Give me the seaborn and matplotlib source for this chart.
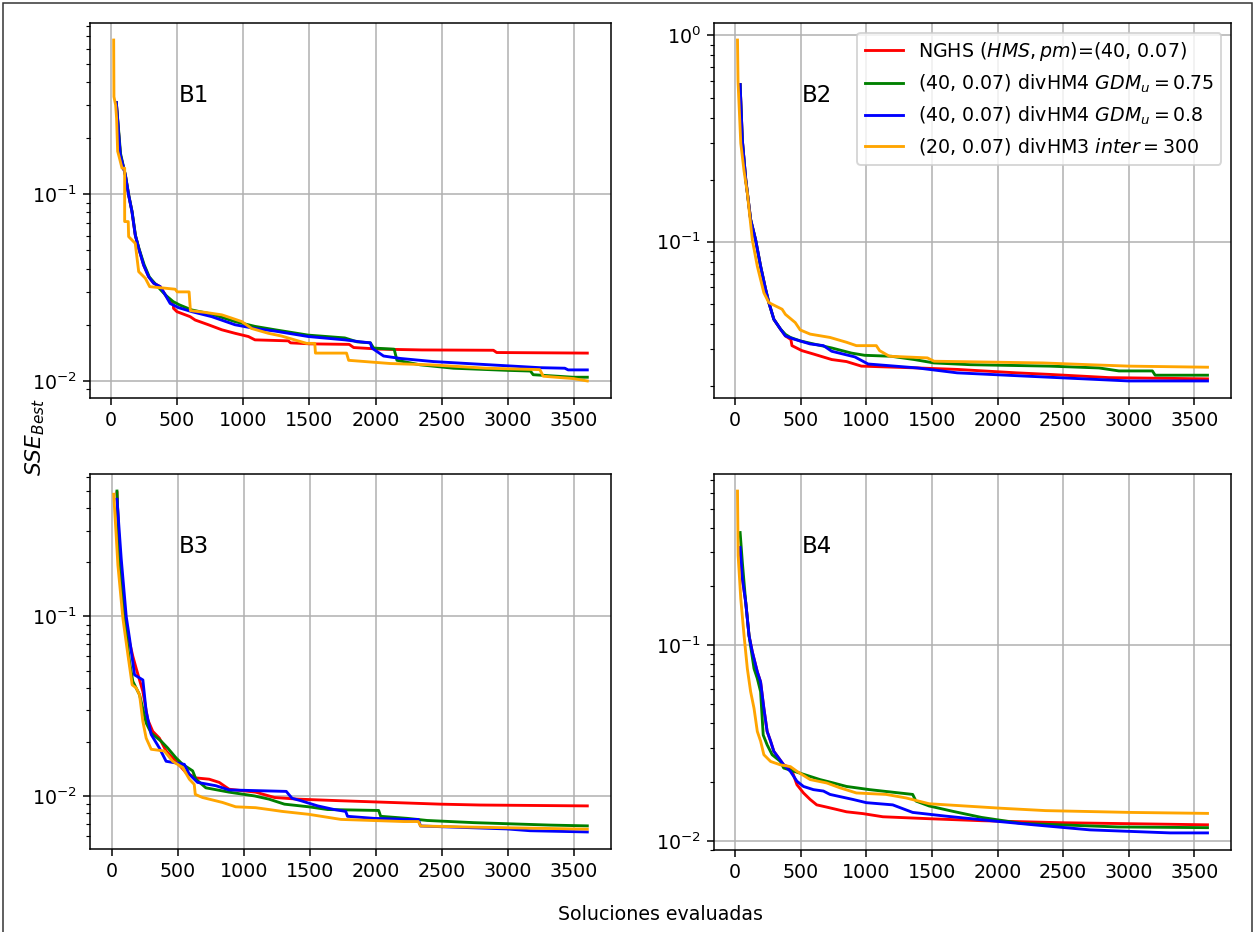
import numpy as np
import pandas as pd
import matplotlib
matplotlib.use("Agg")
import matplotlib.pyplot as plt
from matplotlib.patches import Rectangle
import seaborn as sns

# ---------------- data (best SSE vs evaluated solutions) ----------------
series_labels = [
    "NGHS ($HMS, pm$)=(40, 0.07)",
    "(40, 0.07) divHM4 $GDM_u = 0.75$",
    "(40, 0.07) divHM4 $GDM_u = 0.8$",
    "(20, 0.07) divHM3 $inter = 300$",
]
series_colors = ["red", "green", "blue", "orange"]
panel_names = ["B1", "B2", "B3", "B4"]

# B1
b1_red_x = [40, 70, 108, 133, 158, 183, 209, 246, 284, 322, 372, 410, 447, 472, 472, 498, 598, 636, 736, 837, 937, 1038, 1088, 1340, 1357, 1508, 1800, 1834, 2035, 2350, 2890, 2915, 3600]
b1_red_y = [0.31, 0.163, 0.127, 0.099, 0.081, 0.0605, 0.0514, 0.0418, 0.0362, 0.0334, 0.032, 0.0289, 0.0265, 0.0255, 0.0245, 0.0235, 0.0221, 0.0212, 0.0200, 0.0188, 0.0180, 0.0173, 0.0166, 0.0164, 0.0160, 0.0158, 0.0157, 0.0151, 0.0148, 0.01466, 0.0146, 0.0142, 0.0141]
b1_green_x = [40, 72, 110, 135, 160, 185, 212, 250, 290, 330, 380, 420, 470, 520, 611, 761, 937, 1088, 1239, 1490, 1767, 1860, 1960, 1985, 2140, 2161, 2337, 2588, 2990, 3170, 3191, 3493, 3600]
b1_green_y = [0.31, 0.165, 0.125, 0.098, 0.080, 0.060, 0.051, 0.042, 0.036, 0.0334, 0.0305, 0.0285, 0.0266, 0.0255, 0.0240, 0.0228, 0.0208, 0.0196, 0.0188, 0.0176, 0.0170, 0.0162, 0.0160, 0.0150, 0.0148, 0.0129, 0.0122, 0.0117, 0.0114, 0.0113, 0.0108, 0.01047, 0.01047]
b1_blue_x = [40, 70, 108, 133, 158, 183, 209, 246, 284, 322, 372, 410, 447, 510, 611, 761, 937, 1088, 1239, 1490, 1767, 1884, 1960, 1972, 2060, 2186, 2437, 2865, 3241, 3430, 3455, 3600]
b1_blue_y = [0.31, 0.163, 0.127, 0.099, 0.081, 0.0605, 0.0514, 0.0418, 0.0362, 0.0334, 0.032, 0.0289, 0.026, 0.0247, 0.0235, 0.0221, 0.0200, 0.0191, 0.0185, 0.0173, 0.0166, 0.0162, 0.0160, 0.0150, 0.0136, 0.0132, 0.0127, 0.0122, 0.01178, 0.0117, 0.01146, 0.01146]
b1_orange_x = [20, 22, 35, 42, 50, 60, 83, 103, 103, 130, 133, 183, 209, 259, 292, 485, 500, 590, 600, 711, 837, 912, 988, 1063, 1189, 1289, 1478, 1540, 1545, 1780, 1796, 2110, 2412, 2840, 3241, 3267, 3493, 3600]
b1_orange_y = [0.67, 0.333, 0.30, 0.255, 0.17, 0.16, 0.138, 0.138, 0.0714, 0.0714, 0.0593, 0.0546, 0.0385, 0.0355, 0.032, 0.031, 0.030, 0.030, 0.0238, 0.0233, 0.0226, 0.0217, 0.0208, 0.0191, 0.0180, 0.0174, 0.0159, 0.0159, 0.0141, 0.0141, 0.0129, 0.0124, 0.0122, 0.0117, 0.0115, 0.0106, 0.0103, 0.0100]

# B2
b2_red_x = [38, 55, 81, 118, 156, 194, 232, 257, 295, 345, 383, 425, 433, 509, 597, 736, 849, 962, 1390, 1692, 2145, 2396, 2849, 3600]
b2_red_y = [0.578, 0.31, 0.20, 0.128, 0.102, 0.076, 0.0588, 0.0506, 0.042, 0.0377, 0.0349, 0.0335, 0.0313, 0.0296, 0.0285, 0.0268, 0.0262, 0.0249, 0.0244, 0.0240, 0.0231, 0.0227, 0.0219, 0.0216]
b2_green_x = [38, 55, 81, 118, 156, 194, 232, 257, 295, 345, 383, 421, 496, 597, 736, 887, 987, 1189, 1365, 1516, 1793, 2396, 2773, 2925, 3180, 3201, 3600]
b2_green_y = [0.578, 0.31, 0.20, 0.128, 0.102, 0.076, 0.0588, 0.0506, 0.042, 0.0377, 0.0355, 0.0343, 0.0330, 0.0319, 0.0305, 0.0288, 0.0281, 0.0278, 0.0268, 0.0258, 0.0253, 0.0249, 0.0244, 0.0236, 0.0236, 0.0225, 0.0225]
b2_blue_x = [38, 55, 81, 118, 156, 194, 232, 257, 295, 345, 383, 446, 572, 673, 736, 912, 1013, 1390, 1692, 2195, 2999, 3600]
b2_blue_y = [0.578, 0.31, 0.20, 0.128, 0.102, 0.076, 0.0588, 0.0506, 0.042, 0.0377, 0.0349, 0.0337, 0.0319, 0.0313, 0.0294, 0.0276, 0.0255, 0.0244, 0.0231, 0.0223, 0.0211, 0.0211]
b2_orange_x = [18, 22, 43, 68, 93, 131, 169, 219, 257, 358, 383, 458, 496, 572, 723, 849, 924, 1076, 1101, 1176, 1465, 1516, 2346, 2698, 3000, 3600]
b2_orange_y = [0.95, 0.60, 0.30, 0.22, 0.172, 0.102, 0.076, 0.0565, 0.0506, 0.047, 0.0444, 0.0405, 0.0373, 0.0356, 0.0343, 0.0325, 0.0313, 0.0313, 0.0296, 0.0278, 0.0273, 0.0263, 0.0258, 0.0253, 0.0249, 0.0246]

# B3
b3_red_x = [38, 58, 95, 133, 158, 183, 234, 271, 309, 359, 410, 485, 560, 636, 736, 812, 887, 1088, 1231, 1407, 1734, 2110, 2487, 2789, 3600]
b3_red_y = [0.49, 0.21, 0.097, 0.072, 0.060, 0.0515, 0.0382, 0.0266, 0.0229, 0.021, 0.0178, 0.0156, 0.0135, 0.0126, 0.0124, 0.0119, 0.0109, 0.0105, 0.0098, 0.0096, 0.0094, 0.0092, 0.0090, 0.0089, 0.0088]
b3_green_x = [38, 58, 95, 133, 158, 209, 259, 297, 372, 422, 485, 535, 611, 636, 711, 887, 1080, 1189, 1306, 1490, 1633, 2020, 2035, 2236, 2387, 2739, 3317, 3600]
b3_green_y = [0.50, 0.21, 0.097, 0.056, 0.0435, 0.0366, 0.0255, 0.0224, 0.0202, 0.0185, 0.0163, 0.0150, 0.0138, 0.0124, 0.0111, 0.0105, 0.0100, 0.0096, 0.0090, 0.0087, 0.0084, 0.0083, 0.0077, 0.0075, 0.0073, 0.0071, 0.00688, 0.00681]
b3_blue_x = [38, 70, 108, 133, 171, 234, 259, 297, 359, 410, 548, 586, 648, 787, 887, 1320, 1339, 1364, 1432, 1558, 1683, 1770, 1784, 1985, 2236, 2320, 2337, 2990, 3166, 3600]
b3_blue_y = [0.45, 0.21, 0.10, 0.0755, 0.0473, 0.0443, 0.0296, 0.022, 0.0185, 0.0156, 0.0150, 0.0132, 0.0119, 0.0114, 0.0108, 0.0106, 0.0102, 0.0097, 0.0094, 0.0088, 0.0084, 0.0082, 0.0077, 0.0075, 0.0074, 0.0074, 0.0068, 0.00655, 0.0064, 0.0063]
b3_orange_x = [13, 30, 45, 83, 121, 153, 183, 209, 234, 259, 297, 397, 460, 535, 586, 623, 631, 686, 837, 937, 1088, 1189, 1289, 1490, 1734, 2211, 2320, 2337, 2739, 3241, 3600]
b3_orange_y = [0.48, 0.30, 0.193, 0.0974, 0.061, 0.0416, 0.040, 0.0366, 0.026, 0.021, 0.0182, 0.0178, 0.0156, 0.0144, 0.0124, 0.0116, 0.0102, 0.0098, 0.0092, 0.0087, 0.0086, 0.0084, 0.0082, 0.0079, 0.0074, 0.0072, 0.0072, 0.0068, 0.0067, 0.0066, 0.00653]

# B4
b4_red_x = [38, 55, 81, 106, 131, 169, 194, 219, 244, 270, 295, 333, 370, 426, 471, 521, 572, 622, 698, 773, 849, 975, 1126, 1479, 1877, 2490, 3600]
b4_red_y = [0.316, 0.22, 0.165, 0.112, 0.0925, 0.0732, 0.065, 0.0476, 0.0363, 0.0324, 0.0287, 0.0265, 0.0245, 0.0236, 0.0194, 0.0176, 0.0163, 0.0153, 0.0149, 0.0145, 0.0141, 0.0138, 0.0133, 0.0130, 0.0127, 0.0124, 0.0121]
b4_green_x = [38, 55, 81, 106, 144, 169, 194, 214, 244, 282, 345, 370, 496, 647, 748, 849, 1025, 1353, 1378, 1479, 1655, 1877, 2183, 2918, 3600]
b4_green_y = [0.377, 0.265, 0.165, 0.112, 0.076, 0.0677, 0.058, 0.0348, 0.031, 0.0276, 0.0255, 0.0236, 0.0222, 0.0206, 0.0198, 0.0190, 0.0183, 0.0173, 0.0160, 0.0151, 0.0142, 0.0132, 0.0123, 0.0118, 0.0117]
b4_blue_x = [38, 55, 81, 106, 131, 169, 194, 219, 244, 270, 295, 333, 370, 421, 471, 521, 597, 673, 723, 899, 1000, 1201, 1353, 1605, 2000, 2275, 2704, 3316, 3600]
b4_blue_y = [0.316, 0.22, 0.165, 0.112, 0.0925, 0.0732, 0.065, 0.0476, 0.0363, 0.0324, 0.0287, 0.0265, 0.0245, 0.0227, 0.0202, 0.0190, 0.0183, 0.0180, 0.0173, 0.0163, 0.0157, 0.0153, 0.0140, 0.0134, 0.0126, 0.0121, 0.0114, 0.0110, 0.0110]
b4_orange_x = [18, 23, 43, 68, 93, 118, 144, 169, 194, 219, 270, 345, 421, 471, 572, 698, 799, 924, 1151, 1302, 1479, 2030, 2367, 3010, 3600]
b4_orange_y = [0.614, 0.287, 0.173, 0.112, 0.076, 0.058, 0.0476, 0.0363, 0.0324, 0.0276, 0.0255, 0.0245, 0.0240, 0.0227, 0.0206, 0.0198, 0.0187, 0.0176, 0.0173, 0.0166, 0.0155, 0.0147, 0.0143, 0.0140, 0.01384]

panels = {
    "B1": [(b1_red_x, b1_red_y), (b1_green_x, b1_green_y), (b1_blue_x, b1_blue_y), (b1_orange_x, b1_orange_y)],
    "B2": [(b2_red_x, b2_red_y), (b2_green_x, b2_green_y), (b2_blue_x, b2_blue_y), (b2_orange_x, b2_orange_y)],
    "B3": [(b3_red_x, b3_red_y), (b3_green_x, b3_green_y), (b3_blue_x, b3_blue_y), (b3_orange_x, b3_orange_y)],
    "B4": [(b4_red_x, b4_red_y), (b4_green_x, b4_green_y), (b4_blue_x, b4_blue_y), (b4_orange_x, b4_orange_y)],
}

# ---------------- figure ----------------
W, H, DPI = 1255, 932, 137
fig = plt.figure(figsize=(W / DPI, H / DPI), dpi=DPI)

# axes boxes in pixels: (left, top, right, bottom)
boxes = {
    "B1": (90, 23, 611, 398),
    "B2": (714, 23, 1231, 398),
    "B3": (90, 474, 611, 849),
    "B4": (714, 474, 1231, 850),
}

for name in panel_names:
    l, t, r, b = boxes[name]
    ax = fig.add_axes([l / W, 1 - b / H, (r - l) / W, (b - t) / H])
    for (xs, ys), col, lab in zip(panels[name], series_colors, series_labels):
        df = pd.DataFrame({"x": xs, "y": ys})
        sns.lineplot(data=df, x="x", y="y", sort=False, estimator=None,
                     color=col, linewidth=1.5, label=lab, legend=False, ax=ax)
    ax.set_yscale("log")
    ax.grid(True, which="major", color="#b0b0b0", linewidth=0.8)
    ax.set_xlabel("")
    ax.set_ylabel("")
    ax.set_xticks([0, 500, 1000, 1500, 2000, 2500, 3000, 3500])
    ax.text(0.17, 0.806, name, transform=ax.transAxes, fontsize=12,
            ha="left", va="center")
    if name == "B2":
        ax.legend(loc="upper right", fontsize=10)

fig.text(35 / W, 1 - 437 / H, "$SSE_{Best}$", rotation=90, ha="center",
         va="center", fontsize=11.5)
fig.text(660 / W, 1 - 915 / H, "Soluciones evaluadas", ha="center",
         va="center", fontsize=10)

fig.patches.append(Rectangle((3 / W, -0.01), (1252 - 3) / W, 1.01 - 3 / H,
                             transform=fig.transFigure, fill=False,
                             edgecolor="#333333", linewidth=0.8))

fig.savefig("out.png", dpi=DPI)
